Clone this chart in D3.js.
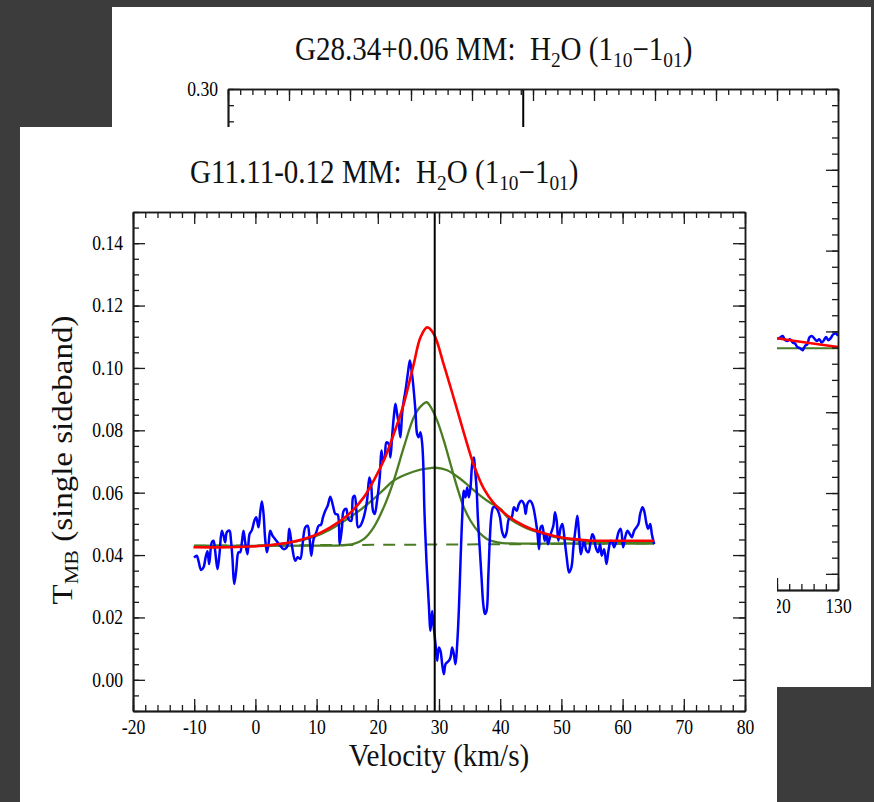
<!DOCTYPE html>
<html>
<head>
<meta charset="utf-8">
<script src="https://cdn.jsdelivr.net/npm/d3@7"></script>
<style>
body { margin: 0; background: #3c3c3c; }
svg { display: block; }
text { font-family: "Liberation Serif", "Times New Roman", serif; white-space: pre; }
</style>
</head>
<body>
<svg id="chart"></svg>
<script>
// front panel: G11.11-0.12 MM, H2O spectrum (velocity km/s, T_MB)
let blueVel = [-10.02, -9.58, -9.31, -8.87, -8.49, -8.11, -7.83, -7.56, -7.12, -6.85, -6.58, -6.20, -5.87, -5.49, -5.21, -4.94, -4.67, -4.23, -4.01, -3.74,
    -3.47, -3.14, -2.76, -2.49, -2.21, -1.94, -1.67, -1.29, -0.96, -0.58, -0.14, 0.13, 0.51, 0.79, 1.06, 1.33, 1.60, 1.88, 2.15, 2.42,
    2.80, 3.24, 3.62, 4.06, 4.60, 5.15, 5.53, 5.97, 6.51, 6.90, 7.33, 7.71, 8.15, 8.53, 8.86, 9.13, 9.51, 9.95, 10.33, 10.71,
    11.04, 11.42, 11.81, 12.24, 12.68, 13.06, 13.44, 13.77, 14.15, 14.42, 14.86, 15.08, 15.41, 15.68, 15.95, 16.22, 16.50, 16.77, 17.15, 17.70,
    18.24, 18.62, 18.90, 19.22, 19.50, 19.88, 20.32, 20.59, 20.86, 21.13, 21.41, 21.79, 22.06, 22.33, 22.61, 22.88, 23.15, 23.43, 23.70, 23.97,
    24.24, 24.52, 24.90, 25.23, 25.44, 25.77, 26.15, 26.43, 26.70, 26.97, 27.24, 27.41, 27.62, 27.95, 28.33, 28.61, 28.88, 29.15, 29.43, 29.70,
    29.97, 30.24, 30.52, 30.79, 31.06, 31.33, 31.61, 31.88, 32.15, 32.43, 32.70, 32.97, 33.24, 33.52, 33.79, 34.06, 34.33, 34.61, 34.88, 35.15,
    35.43, 35.70, 35.86, 36.13, 36.35, 36.68, 36.95, 37.23, 37.50, 37.77, 38.05, 38.32, 38.59, 38.86, 39.24, 39.63, 39.96, 40.34, 40.72, 41.05,
    41.43, 41.87, 42.25, 42.68, 43.07, 43.45, 43.88, 44.16, 44.43, 44.87, 45.25, 45.63, 46.07, 46.34, 46.61, 46.88, 47.27, 47.59, 47.81, 48.25,
    48.68, 48.96, 49.23, 49.50, 49.89, 50.16, 50.54, 50.87, 51.25, 51.63, 51.96, 52.34, 52.61, 52.89, 53.16, 53.43, 53.70, 54.09, 54.41, 54.80,
    55.07, 55.34, 55.61, 56.00, 56.32, 56.59, 56.98, 57.36, 57.69, 58.07, 58.34, 58.61, 59.00, 59.33, 59.70, 60.09, 60.42, 60.80, 61.18, 61.51,
    61.89, 62.27, 62.60, 62.87, 63.25, 63.52, 63.91, 64.18, 64.51, 64.78, 65.16]
let blueT = [0.0392, 0.0398, 0.0382, 0.0352, 0.0360, 0.0395, 0.0412, 0.0371, 0.0441, 0.0446, 0.0414, 0.0355, 0.0403, 0.0478, 0.0462, 0.0441, 0.0473, 0.0478, 0.0451, 0.0387,
    0.0307, 0.0350, 0.0409, 0.0409, 0.0441, 0.0478, 0.0441, 0.0403, 0.0467, 0.0480, 0.0512, 0.0521, 0.0489, 0.0537, 0.0572, 0.0532, 0.0451, 0.0409, 0.0435, 0.0478,
    0.0462, 0.0451, 0.0441, 0.0430, 0.0419, 0.0425, 0.0484, 0.0430, 0.0382, 0.0393, 0.0388, 0.0435, 0.0489, 0.0494, 0.0451, 0.0398, 0.0451, 0.0473, 0.0494, 0.0497,
    0.0521, 0.0542, 0.0558, 0.0587, 0.0558, 0.0532, 0.0530, 0.0435, 0.0489, 0.0542, 0.0548, 0.0521, 0.0510, 0.0510, 0.0585, 0.0590, 0.0542, 0.0489, 0.0494, 0.0521,
    0.0574, 0.0649, 0.0628, 0.0542, 0.0532, 0.0574, 0.0649, 0.0735, 0.0703, 0.0713, 0.0761, 0.0756, 0.0713, 0.0778, 0.0842, 0.0885, 0.0853, 0.0820, 0.0778, 0.0853,
    0.0895, 0.0927, 0.0981, 0.1024, 0.1002, 0.0949, 0.0863, 0.0788, 0.0778, 0.0794, 0.0760, 0.0703, 0.0542, 0.0382, 0.0243, 0.0157, 0.0221, 0.0168, 0.0114, 0.0061,
    0.0104, 0.0093, 0.0050, 0.0018, 0.0050, 0.0056, 0.0061, 0.0072, 0.0104, 0.0082, 0.0050, 0.0114, 0.0221, 0.0382, 0.0521, 0.0606, 0.0585, 0.0617, 0.0585, 0.0617,
    0.0692, 0.0713, 0.0681, 0.0617, 0.0521, 0.0414, 0.0328, 0.0243, 0.0211, 0.0221, 0.0328, 0.0457, 0.0532, 0.0553, 0.0553, 0.0542, 0.0521, 0.0473, 0.0457, 0.0473,
    0.0516, 0.0521, 0.0553, 0.0542, 0.0564, 0.0574, 0.0564, 0.0532, 0.0564, 0.0574, 0.0564, 0.0532, 0.0473, 0.0419, 0.0489, 0.0494, 0.0446, 0.0467, 0.0435, 0.0467,
    0.0494, 0.0537, 0.0510, 0.0446, 0.0489, 0.0500, 0.0446, 0.0392, 0.0344, 0.0360, 0.0425, 0.0489, 0.0526, 0.0467, 0.0403, 0.0425, 0.0446, 0.0414, 0.0409, 0.0446,
    0.0467, 0.0457, 0.0425, 0.0409, 0.0435, 0.0398, 0.0419, 0.0371, 0.0414, 0.0446, 0.0441, 0.0425, 0.0446, 0.0473, 0.0484, 0.0425, 0.0457, 0.0478, 0.0467, 0.0457,
    0.0478, 0.0489, 0.0500, 0.0532, 0.0553, 0.0542, 0.0500, 0.0484, 0.0500, 0.0467, 0.0435]

// total fit (red)
let fitVel = [-10.13, -4.12, 1.33, 5.70, 9.51, 12.24, 14.97, 17.70, 19.33, 20.97, 22.61, 24.24, 25.88, 26.97, 28.06, 29.15,
    30.79, 32.43, 34.06, 35.70, 37.34, 38.97, 41.16, 43.88, 46.61, 49.34, 52.07, 54.80, 57.52, 60.25, 65.16]
let fitT = [0.0425, 0.0425, 0.0430, 0.0441, 0.0462, 0.0489, 0.0526, 0.0585, 0.0639, 0.0703, 0.0788, 0.0885, 0.1013, 0.1098, 0.1130, 0.1109,
    0.1010, 0.0902, 0.0792, 0.0688, 0.0612, 0.0566, 0.0527, 0.0494, 0.0473, 0.0459, 0.0451, 0.0446, 0.0446, 0.0446, 0.0446]

// narrow component (green)
let narrowVel = [-10.0, 10.61, 13.88, 16.06, 17.70, 19.33, 20.97, 22.61, 24.24, 25.88, 26.97, 28.0, 28.61,
    29.70, 30.79, 31.88, 32.97, 34.06, 35.15, 36.52, 37.88, 39.52, 42.0, 50.0, 65.16]
let narrowT = [0.0430, 0.0430, 0.0431, 0.0436, 0.0451, 0.0489, 0.0553, 0.0639, 0.0745, 0.0842, 0.0876, 0.0890, 0.0876,
    0.0831, 0.0767, 0.0692, 0.0617, 0.0553, 0.0510, 0.0473, 0.0451, 0.0441, 0.0437, 0.0437, 0.0437]

// broad component (green)
let broadVel = [-10.0, -4.0, 1.33, 5.70, 9.51, 12.24, 14.97, 17.15, 19.33, 20.97, 22.61, 24.79, 26.97, 28.61, 29.5,
    31.33, 33.52, 35.15, 36.79, 38.43, 40.06, 41.16, 43.88, 46.61, 49.34, 52.07, 54.80, 57.52, 60.25, 65.16]
let broadT = [0.0428, 0.0428, 0.0430, 0.0440, 0.0458, 0.0482, 0.0515, 0.0545, 0.0580, 0.0610, 0.0639, 0.0660, 0.0674, 0.0679, 0.0680,
    0.0672, 0.0644, 0.0617, 0.0590, 0.0567, 0.0548, 0.0522, 0.0490, 0.0470, 0.0456, 0.0448, 0.0443, 0.0441, 0.0440, 0.0440]

// baseline (dashed green)
let baseVel = [-10.0, 65.16]
let baseT = [0.0430, 0.0437]

let frontVlsr = 29.3
let frontXTicks = [-20, -10, 0, 10, 20, 30, 40, 50, 60, 70, 80]
let frontYTicks = [0.00, 0.02, 0.04, 0.06, 0.08, 0.10, 0.12, 0.14]

// back panel: G28.34+0.06 MM (only the right edge shows)
let backVel = [120.05, 120.49, 120.93, 121.31, 121.69, 122.13, 122.57, 122.95, 123.33, 123.77, 124.21, 124.59, 124.97,
    125.30, 125.69, 126.07, 126.51, 126.93, 127.33, 127.70, 128.03, 128.41, 128.80, 129.23, 129.67, 130.0]
let backT = [0.1452, 0.1462, 0.1472, 0.1446, 0.1441, 0.1452, 0.1431, 0.1425, 0.1404, 0.1396, 0.1384, 0.1410, 0.1421,
    0.1462, 0.1472, 0.1458, 0.1441, 0.1452, 0.1431, 0.1446, 0.1466, 0.1446, 0.1458, 0.1483, 0.1487, 0.1472]
let backFitVel = [120.0, 125.0, 130.0]
let backFitT = [0.1458, 0.1430, 0.1404]
let backBaseVel = [120.0, 130.0]
let backBaseT = [0.1396, 0.1396]
let backVlsr = 78.4
let backXTicks = [30, 40, 50, 60, 70, 80, 90, 100, 110, 120, 130]
let backYTicks = [0.00, 0.05, 0.10, 0.15, 0.20, 0.25, 0.30]
// labels not hidden behind the front panel
let backXLabels = [120, 130]
let backYLabels = [0.30]

let sx = 0.88   // the source picture is squeezed horizontally
let blue = '#0000ff', red = '#ff0000', green = '#4a7d23'

let svg = d3.select('#chart').attr('width', 874).attr('height', 802)
svg.append('rect').attr('width', 874).attr('height', 802).attr('fill', '#3c3c3c')

function side(g, axisFn, scale, vals, size, tr, fmt, pad) {
    let a = axisFn(scale).tickValues(vals).tickSize(size).tickSizeOuter(0)
        .tickFormat(fmt || (() => '')).tickPadding(pad || 0)
    let s = g.append('g').attr('transform', tr).call(a)
        .attr('font-family', null).attr('font-size', 20)
    s.select('.domain').attr('stroke', '#1a1a1a').attr('stroke-width', 1.5)
    s.selectAll('.tick line').attr('stroke', '#1a1a1a').attr('stroke-width', 1.3)
    s.selectAll('text').filter(function() { return !this.textContent }).remove()
    return s
}

function frame(g, x, y, xMaj, xMin, yMaj, yMin, xLab, yLab) {
    let [xl, xr] = x.range(), [yb, yt] = y.range()
    side(g, d3.axisBottom, x, xMin, -6, `translate(0,${yb})`)
    side(g, d3.axisBottom, x, xMaj, -12, `translate(0,${yb})`)
    side(g, d3.axisTop, x, xMin, -6, `translate(0,${yt})`)
    side(g, d3.axisTop, x, xMaj, -12, `translate(0,${yt})`)
    side(g, d3.axisLeft, y, yMin, -6, `translate(${xl},0)`)
    side(g, d3.axisLeft, y, yMaj, -12, `translate(${xl},0)`)
    side(g, d3.axisRight, y, yMin, -6, `translate(${xr},0)`)
    side(g, d3.axisRight, y, yMaj, -12, `translate(${xr},0)`)
    let b = side(g, d3.axisBottom, x, xLab, 0, `translate(0,${yb})`, d => String(d), 9)
    b.selectAll('text').attr('transform', `scale(${sx},1)`)
    let l = side(g, d3.axisLeft, y, yLab, 0, `translate(${xl},0)`, d3.format('.2f'), 9)
    l.selectAll('text').attr('x', -10 / sx).attr('transform', `scale(${sx},1)`)
}

function curve(g, x, y, vs, ts, color, width, dash) {
    g.append('path')
        .datum(d3.zip(vs, ts))
        .attr('fill', 'none')
        .attr('stroke', color)
        .attr('stroke-width', width)
        .attr('stroke-linejoin', 'round')
        .attr('stroke-dasharray', dash || null)
        .attr('d', d3.line().x(d => x(d[0])).y(d => y(d[1])).curve(d3.curveCatmullRom.alpha(0.5)))
}

function title(g, x, y, name) {
    let t = g.append('text').attr('transform', `translate(${x},${y}) scale(${sx},1)`)
        .attr('font-size', 33).attr('fill', '#111')
    t.append('tspan').text(name + ':  H')
    t.append('tspan').attr('dy', 7).attr('font-size', 22).text('2')
    t.append('tspan').attr('dy', -7).text('O (1')
    t.append('tspan').attr('dy', 7).attr('font-size', 22).text('10')
    t.append('tspan').attr('dy', -7).text('\u22121')
    t.append('tspan').attr('dy', 7).attr('font-size', 22).text('01')
    t.append('tspan').attr('dy', -7).text(')')
}

// back panel
let back = svg.append('g')
back.append('rect').attr('x', 112).attr('y', 7).attr('width', 759).attr('height', 680).attr('fill', '#fff')
let bx = d3.scaleLinear([30, 130], [228, 838])
let by = d3.scaleLinear([-0.01, 0.30], [590, 89])
curve(back, bx, by, backBaseVel, backBaseT, green, 2.2)
curve(back, bx, by, backVel, backT, blue, 2.5)
curve(back, bx, by, backFitVel, backFitT, red, 2.6)
back.append('line')
    .attr('x1', bx(backVlsr)).attr('x2', bx(backVlsr))
    .attr('y1', by(0.30)).attr('y2', by(-0.01))
    .attr('stroke', '#000').attr('stroke-width', 2)
frame(back, bx, by, backXTicks, d3.range(30, 130.01, 2), backYTicks, d3.range(-0.01, 0.3001, 0.01), backXLabels, backYLabels)
title(back, 295, 60, 'G28.34+0.06 MM')

// front panel
let front = svg.append('g')
front.append('rect').attr('x', 20).attr('y', 127).attr('width', 757).attr('height', 680).attr('fill', '#fff')
let fx = d3.scaleLinear([-20, 80], [133, 745])
let fy = d3.scaleLinear([-0.01, 0.15], [711, 212])
curve(front, fx, fy, baseVel, baseT, green, 2, '12,9')
curve(front, fx, fy, broadVel, broadT, green, 2.3)
curve(front, fx, fy, narrowVel, narrowT, green, 2.3)
curve(front, fx, fy, blueVel, blueT, blue, 2.5)
curve(front, fx, fy, fitVel, fitT, red, 2.6)
front.append('line')
    .attr('x1', fx(frontVlsr)).attr('x2', fx(frontVlsr))
    .attr('y1', fy(0.15)).attr('y2', fy(-0.01))
    .attr('stroke', '#000').attr('stroke-width', 2)
frame(front, fx, fy, frontXTicks, d3.range(-20, 80.01, 2), frontYTicks, d3.range(-0.01, 0.1501, 0.005), frontXTicks, frontYTicks)
title(front, 190, 183, 'G11.11-0.12 MM')

front.append('text')
    .attr('transform', 'translate(439,766) scale(0.94,1)')
    .attr('text-anchor', 'middle').attr('font-size', 31).attr('fill', '#111')
    .text('Velocity (km/s)')

let yl = front.append('text')
    .attr('transform', `translate(72,460) scale(${sx},1) rotate(-90)`)
    .attr('text-anchor', 'middle').attr('font-size', 33).attr('fill', '#111')
yl.append('tspan').text('T')
yl.append('tspan').attr('dy', 7).attr('font-size', 22).text('MB')
yl.append('tspan').attr('dy', -7).text(' (single sideband)')
</script>
</body>
</html>
